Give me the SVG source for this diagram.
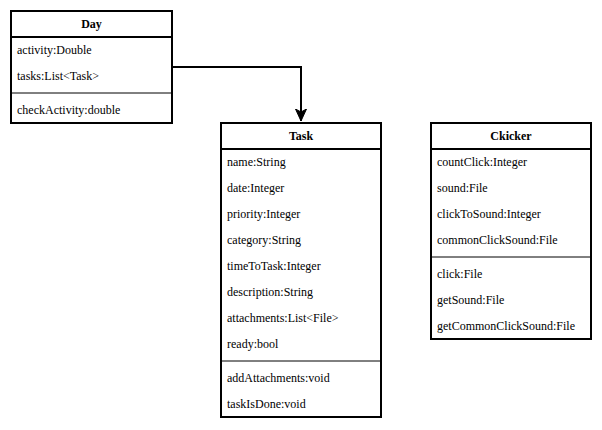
<svg xmlns="http://www.w3.org/2000/svg" width="602" height="430" viewBox="0 0 602 430">
<style>
.box{fill:#fff;stroke:#000;stroke-width:2}
.hd{stroke:#000;stroke-width:2}
.sep{stroke:#000;stroke-width:1}
text{font-size:12px;fill:#000}
.t{font-weight:bold;text-anchor:middle}
.edge{fill:none;stroke:#000;stroke-width:2}
</style>
<defs>
<marker id="arr" markerUnits="userSpaceOnUse" markerWidth="14" markerHeight="14" viewBox="0 0 14 14" refX="12" refY="7" orient="auto">
<path d="M0,1.5 L12,7 L0,12.5 L3,7 Z" fill="#000" stroke="#000" stroke-width="1"/>
</marker>
</defs>
<rect width="602" height="430" fill="#fff"/>
<g id="connectors">
<path class="edge" d="M172,67 H301 V121" marker-end="url(#arr)"/>
</g>
<g font-family="'Liberation Serif', 'Times New Roman', 'DejaVu Serif', serif">
<g id="day">
<rect class="box" x="11" y="11" width="161" height="112"/>
<line class="hd" x1="11" y1="37" x2="172" y2="37"/>
<line class="sep" x1="11" y1="93" x2="172" y2="93"/>
<text class="t" x="91.5" y="28">Day</text>
<text x="17" y="54">activity:Double</text>
<text x="17" y="80">tasks:List&lt;Task&gt;</text>
<text x="17" y="114">checkActivity:double</text>
</g>
<g id="task">
<rect class="box" x="221" y="123" width="160" height="294"/>
<line class="hd" x1="221" y1="149" x2="381" y2="149"/>
<line class="sep" x1="221" y1="361" x2="381" y2="361"/>
<text class="t" x="301" y="140">Task</text>
<text x="227" y="166">name:String</text>
<text x="227" y="192">date:Integer</text>
<text x="227" y="218">priority:Integer</text>
<text x="227" y="244">category:String</text>
<text x="227" y="270">timeToTask:Integer</text>
<text x="227" y="296">description:String</text>
<text x="227" y="322">attachments:List&lt;File&gt;</text>
<text x="227" y="348">ready:bool</text>
<text x="227" y="382">addAttachments:void</text>
<text x="227" y="408">taskIsDone:void</text>
</g>
<g id="ckicker">
<rect class="box" x="431" y="123" width="160" height="216"/>
<line class="hd" x1="431" y1="149" x2="591" y2="149"/>
<line class="sep" x1="431" y1="257" x2="591" y2="257"/>
<text class="t" x="511" y="140">Ckicker</text>
<text x="437" y="166">countClick:Integer</text>
<text x="437" y="192">sound:File</text>
<text x="437" y="218">clickToSound:Integer</text>
<text x="437" y="244">commonClickSound:File</text>
<text x="437" y="278">click:File</text>
<text x="437" y="304">getSound:File</text>
<text x="437" y="330">getCommonClickSound:File</text>
</g>
</g>
</svg>
